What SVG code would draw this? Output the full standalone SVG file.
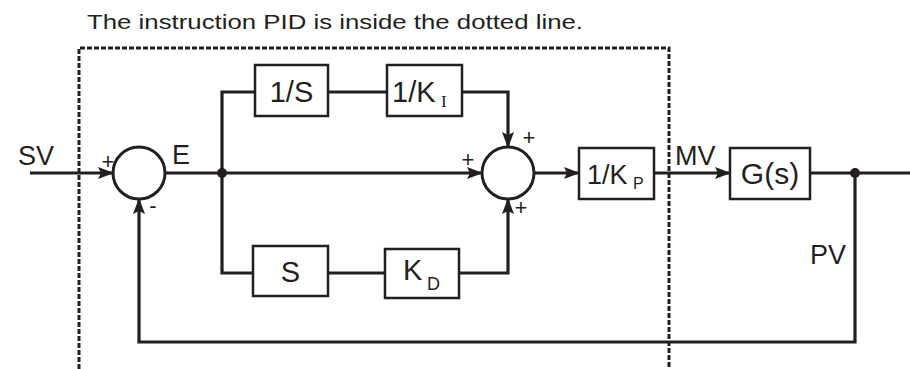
<svg xmlns="http://www.w3.org/2000/svg" width="910" height="369" viewBox="0 0 910 369">
<style>
.t{font-family:"Liberation Sans",Arial,sans-serif;fill:#231f20}
.lbl{font-size:27px}
.sign{font-size:22px}
.box{fill:#fff;stroke:#231f20;stroke-width:2.5}
.sum{fill:#fff;stroke:#231f20;stroke-width:3}
.ln{fill:none;stroke:#231f20;stroke-width:3.2}
.dash{fill:none;stroke:#231f20;stroke-width:3;stroke-dasharray:5 2}
</style>
<defs>
<marker id="ah" viewBox="0 0 16 12" refX="15" refY="6" markerWidth="16" markerHeight="12" markerUnits="userSpaceOnUse" orient="auto">
<path d="M0,0 L16,6 L0,12 L3,6 Z" fill="#231f20"/>
</marker>
</defs>
<rect width="910" height="369" fill="#fff"/>
<text class="t" x="87" y="29" font-size="21" textLength="496" lengthAdjust="spacingAndGlyphs">The instruction PID is inside the dotted line.</text>
<g id="boundary">
<path class="dash" d="M79,369 V48 H669 V369"/>
</g>
<g id="connectors">
<path class="ln" d="M30,173 H113" marker-end="url(#ah)"/>
<path class="ln" d="M165,173 H482" marker-end="url(#ah)"/>
<path class="ln" d="M222,173 V92 H255"/>
<path class="ln" d="M328,92 H387"/>
<path class="ln" d="M462,92 H508 V147" marker-end="url(#ah)"/>
<path class="ln" d="M222,173 V273 H253"/>
<path class="ln" d="M328,273 H385"/>
<path class="ln" d="M459,273 H508 V199" marker-end="url(#ah)"/>
<path class="ln" d="M534,173 H579" marker-end="url(#ah)"/>
<path class="ln" d="M654,173 H730" marker-end="url(#ah)"/>
<path class="ln" d="M810,173 H910"/>
<path class="ln" d="M855,173 V342 H139 V199" marker-end="url(#ah)"/>
<circle cx="222" cy="173" r="5" fill="#231f20"/>
<circle cx="855" cy="173" r="5" fill="#231f20"/>
</g>
<g id="sum1">
<circle class="sum" cx="139" cy="173" r="26"/>
<text class="t sign" x="108" y="169" text-anchor="middle">+</text>
<text class="t sign" x="153" y="213" text-anchor="middle">-</text>
</g>
<g id="sum2">
<circle class="sum" cx="508" cy="173" r="26"/>
<text class="t sign" x="529" y="145" text-anchor="middle">+</text>
<text class="t sign" x="468" y="167" text-anchor="middle">+</text>
<text class="t sign" x="521" y="215" text-anchor="middle">+</text>
</g>
<g id="integ">
<rect class="box" x="255" y="65" width="73" height="51"/>
<text class="t" x="291.5" y="102" font-size="29" text-anchor="middle">1/S</text>
</g>
<g id="ki">
<rect class="box" x="387" y="65" width="75" height="51"/>
<text class="t" x="392" y="102" font-size="29">1/K</text>
<text x="441" y="107" font-size="17" font-family="'Liberation Serif','Times New Roman',serif" fill="#231f20">I</text>
</g>
<g id="deriv">
<rect class="box" x="253" y="246" width="75" height="50"/>
<text class="t" x="290.5" y="282" font-size="29" text-anchor="middle">S</text>
</g>
<g id="kd">
<rect class="box" x="385" y="249" width="74" height="49"/>
<text class="t" x="403" y="280" font-size="29">K</text>
<text class="t" x="427" y="290" font-size="18">D</text>
</g>
<g id="kp">
<rect class="box" x="579" y="148" width="75" height="51"/>
<text class="t" x="587" y="184" font-size="27">1/K</text>
<text class="t" x="633" y="189" font-size="16">P</text>
</g>
<g id="plant">
<rect class="box" x="730" y="148" width="80" height="51"/>
<text class="t" x="770" y="184" font-size="30" text-anchor="middle">G(s)</text>
</g>
<g id="labels">
<text class="t lbl" x="18" y="165">SV</text>
<text class="t lbl" x="172" y="164">E</text>
<text class="t lbl" x="675" y="165">MV</text>
<text class="t lbl" x="810" y="264">PV</text>
</g>
</svg>
